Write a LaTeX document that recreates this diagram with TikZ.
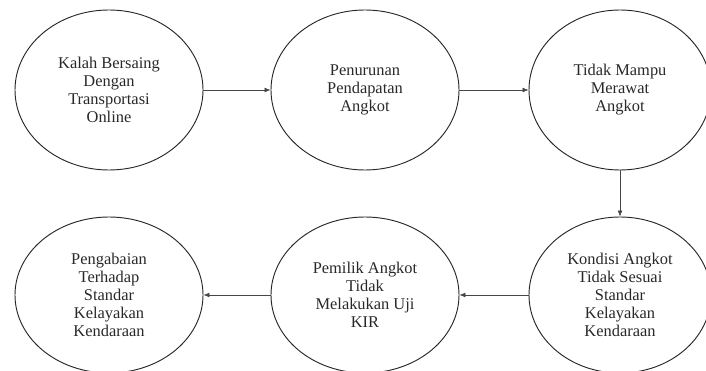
\documentclass[tikz,border=0pt]{standalone}
\usepackage{fontspec}
\setmainfont{Liberation Serif}
\usepackage{tikz}
\usetikzlibrary{shapes.geometric, arrows.meta, positioning}
\definecolor{inkgray}{RGB}{40,40,40}
\definecolor{linegray}{RGB}{70,70,70}

\begin{document}
\begin{tikzpicture}[
  x=0.03cm, y=-0.03cm,
  cause/.style={ellipse, draw=inkgray, line width=0.8pt, text=inkgray,
                minimum width=5.64cm, minimum height=4.8cm, inner sep=0pt,
                align=center, font=\fontsize{14}{15.4}\selectfont},
  arr/.style={-{Latex[length=5pt, width=4pt]}, line width=0.5pt, color=linegray}
]
  \useasboundingbox (0,0) rectangle (706,371);

  % Top row
  \node[cause] (kalah)     at (109, 90) {Kalah Bersaing\\Dengan\\Transportasi\\Online};
  \node[cause] (penurunan) at (365, 90) {Penurunan\\Pendapatan\\Angkot};
  \node[cause, minimum width=5.46cm] (merawat) at (620, 90) {Tidak Mampu\\Merawat\\Angkot};

  % Bottom row
  \node[cause, minimum width=5.46cm, minimum height=4.68cm] (kondisi) at (620, 295)
        {Kondisi Angkot\\Tidak Sesuai\\Standar\\Kelayakan\\Kendaraan};
  \node[cause, minimum height=4.68cm] (pemilik)    at (365, 295) {Pemilik Angkot\\Tidak\\Melakukan Uji\\KIR};
  \node[cause, minimum height=4.68cm] (pengabaian) at (109, 295) {Pengabaian\\Terhadap\\Standar\\Kelayakan\\Kendaraan};

  % ── Arrows ──────────────────────────────────────────
  \draw[arr] (kalah) -- (penurunan);
  \draw[arr] (penurunan) -- (merawat);
  \draw[arr] (merawat) -- (kondisi);
  \draw[arr] (kondisi) -- (pemilik);
  \draw[arr] (pemilik) -- (pengabaian);

\end{tikzpicture}
\end{document}
